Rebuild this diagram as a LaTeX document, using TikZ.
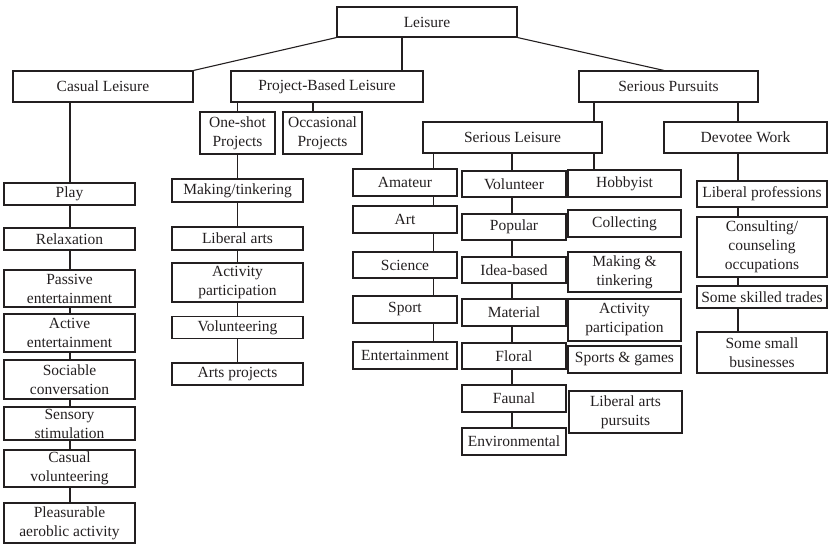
\documentclass[tikz,border=0pt]{standalone}
\usepackage{fontspec}
\setmainfont{Liberation Serif}
\definecolor{ink}{HTML}{231F20}
\begin{document}
\begin{tikzpicture}[x=1pt,y=-1pt,
  box/.style={draw=ink, line width=1.1pt, inner sep=0pt, align=center,
    font=\fontsize{15.5}{19}\selectfont, text=ink},
  link/.style={draw=ink, line width=1.1pt}]
\useasboundingbox (0,0) rectangle (834,544);
\def\mybox#1#2#3#4#5#6{\node[box,minimum width=#4pt,minimum height=#5pt] (#1) at (#2,#3) {#6};}
% top levels
\mybox{leisure}{427}{22}{180}{30}{Leisure}
\mybox{casual}{103}{86.5}{180}{31}{Casual Leisure}
\mybox{pbl}{327}{86.5}{192}{31}{Project-Based Leisure}
\mybox{sp}{668.5}{86.5}{179}{31}{Serious Pursuits}
\mybox{oneshot}{237.5}{133}{75}{42}{One-shot\\Projects}
\mybox{occ}{322.5}{133}{79}{42}{Occasional\\Projects}
\mybox{sl}{512.5}{137.5}{179}{31}{Serious Leisure}
\mybox{dw}{745.5}{137.5}{163}{31}{Devotee Work}
% casual column
\mybox{play}{69.5}{194}{131}{22}{Play}
\mybox{relax}{69.5}{239}{131}{22}{Relaxation}
\mybox{passive}{69.5}{288.5}{131}{37}{Passive\\entertainment}
\mybox{active}{69.5}{333}{131}{38}{Active\\entertainment}
\mybox{sociable}{69.5}{379.5}{131}{39}{Sociable\\conversation}
\mybox{sensory}{69.5}{423.5}{131}{33}{Sensory\\stimulation}
\mybox{casvol}{69.5}{468.5}{131}{37}{Casual\\volunteering}
\mybox{pleas}{69.5}{523}{131}{40}{Pleasurable\\aeroblic activity}
% project column
\mybox{making}{237.5}{190.5}{131}{23}{Making/tinkering}
\mybox{libarts}{237.5}{238.5}{131}{23}{Liberal arts}
\mybox{actpart}{237.5}{282.5}{131}{39}{Activity\\participation}
\mybox{volg}{237.5}{327.5}{131}{22}{Volunteering}
\mybox{artsproj}{237.5}{374}{131}{22}{Arts projects}
% amateur column
\mybox{amateur}{405}{182.5}{104}{27}{Amateur}
\mybox{art}{405}{219.5}{104}{27}{Art}
\mybox{science}{405}{265}{104}{26}{Science}
\mybox{sport}{405}{309.5}{104}{27}{Sport}
\mybox{entert}{405}{355.5}{104}{27}{Entertainment}
% volunteer column
\mybox{volunteer}{514}{184}{104}{26}{Volunteer}
\mybox{popular}{514}{227}{104}{26}{Popular}
\mybox{idea}{514}{270}{104}{26}{Idea-based}
\mybox{material}{514}{312.5}{104}{27}{Material}
\mybox{floral}{514}{356}{104}{26}{Floral}
\mybox{faunal}{514}{398.5}{104}{27}{Faunal}
\mybox{environ}{514}{441.5}{104}{27}{Environmental}
% hobbyist column
\mybox{hobbyist}{624.5}{183.5}{113}{27}{Hobbyist}
\mybox{collecting}{624.5}{223.5}{113}{27}{Collecting}
\mybox{makingt}{624.5}{272}{113}{40}{Making \&\\tinkering}
\mybox{actpart2}{624.5}{320}{113}{42}{Activity\\participation}
\mybox{sports}{624.5}{359.5}{113}{27}{Sports \& games}
\mybox{libpurs}{625.5}{412}{113}{42}{Liberal arts\\pursuits}
% devotee column
\mybox{libprof}{762}{194}{130}{26}{Liberal professions}
\mybox{consult}{762}{247}{130}{60}{Consulting/\\counseling\\occupations}
\mybox{skilled}{762}{297}{130}{22}{Some skilled trades}
\mybox{small}{762}{352.5}{130}{41}{Some small\\businesses}
% column lines
\coordinate (xpbl) at (402,0);
\coordinate (xsp) at (664,0);
\coordinate (xcas) at (70,0);
\coordinate (xocc) at (313,0);
\coordinate (xsl) at (594,0);
\coordinate (xdw) at (738,0);
\coordinate (xam) at (433.5,0);
\coordinate (xvol) at (512,0);
% connectors
\draw[link] (leisure.south west) -- (casual.north east);
\draw[link] (leisure.south -| xpbl) -- (pbl.north -| xpbl);
\draw[link] (leisure.south east) -- (sp.north -| xsp);
\draw[link] (casual.south -| xcas) -- (play.north -| xcas);
\draw[link] (pbl.south -| oneshot.north) -- (oneshot.north);
\draw[link] (pbl.south -| xocc) -- (occ.north -| xocc);
\draw[link] (oneshot.south) -- (making.north);
\draw[link] (sp.south -| xsl) -- (sl.north -| xsl);
\draw[link] (sp.south -| xdw) -- (dw.north -| xdw);
\draw[link] (sl.south -| xam) -- (amateur.north -| xam);
\draw[link] (sl.south -| xvol) -- (volunteer.north -| xvol);
\draw[link] (sl.south -| xsl) -- (hobbyist.north -| xsl);
\draw[link] (dw.south -| xdw) -- (libprof.north -| xdw);
\foreach \a/\b in {play/relax,relax/passive,passive/active,active/sociable,sociable/sensory,sensory/casvol,casvol/pleas}
  \draw[link] (\a.south -| xcas) -- (\b.north -| xcas);
\foreach \a/\b in {making/libarts,libarts/actpart,actpart/volg,volg/artsproj}
  \draw[link] (\a.south) -- (\b.north);
\foreach \a/\b in {amateur/art,art/science,science/sport,sport/entert}
  \draw[link] (\a.south -| xam) -- (\b.north -| xam);
\foreach \a/\b in {volunteer/popular,popular/idea,idea/material,material/floral,floral/faunal,faunal/environ}
  \draw[link] (\a.south -| xvol) -- (\b.north -| xvol);
\foreach \a/\b in {libprof/consult,consult/skilled,skilled/small}
  \draw[link] (\a.south -| xdw) -- (\b.north -| xdw);
\end{tikzpicture}
\end{document}
